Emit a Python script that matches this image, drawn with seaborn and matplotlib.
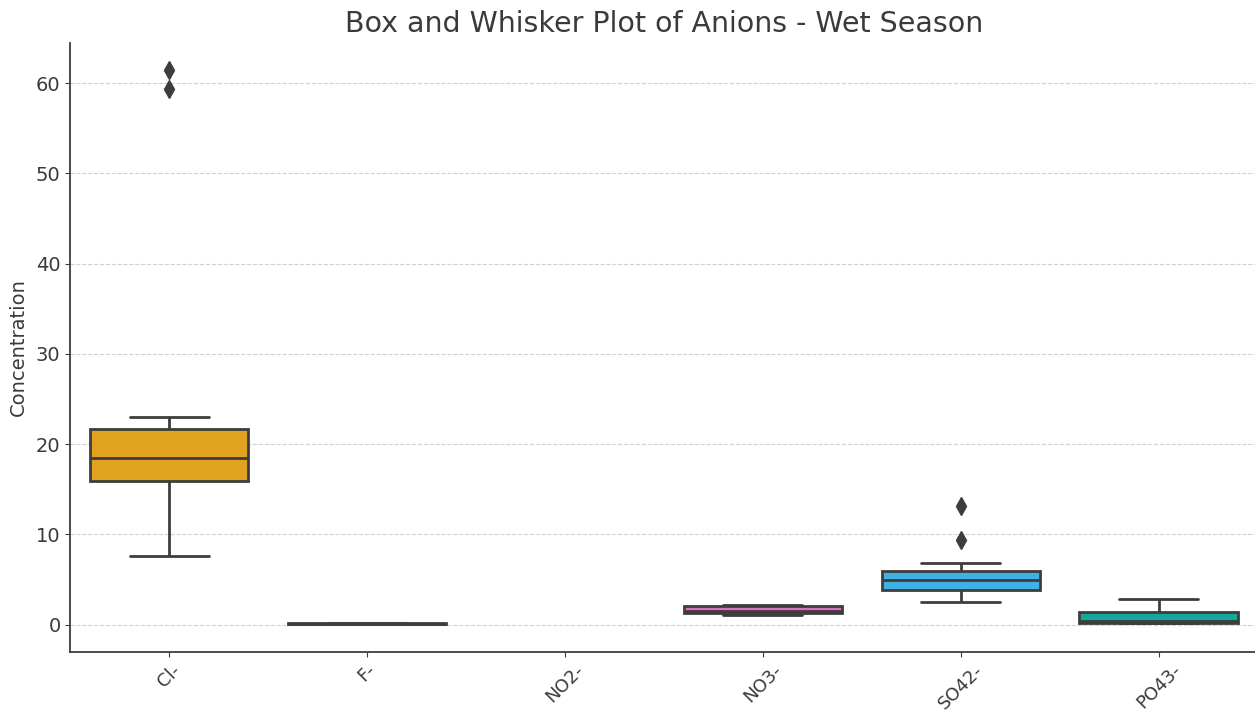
import numpy as np
import pandas as pd
import matplotlib
matplotlib.use("Agg")
import matplotlib.pyplot as plt
import seaborn as sns

# anions in plot order
anions = ["Cl-", "F-", "NO2-", "NO3-", "SO42-", "PO43-"]

# measured concentrations per anion (wet season)
cl = [7.6, 12.1, 14.8, 15.9, 16.7, 17.5, 18.4, 19.6, 20.9, 21.7, 23.0, 59.3, 61.4]
f = [0.06, 0.08, 0.09, 0.10, 0.10, 0.11, 0.12, 0.13, 0.15]
no2 = [np.nan]  # not detected
no3 = [1.1, 1.2, 1.3, 1.4, 1.5, 1.8, 2.0, 2.1, 2.15]
so4 = [2.5, 3.1, 3.6, 3.85, 4.3, 4.6, 4.9, 5.3, 5.6, 5.95, 6.8, 9.4, 13.1]
po4 = [0.15, 0.18, 0.2, 0.3, 0.35, 0.8, 1.35, 2.0, 2.8]

colors = ["#E0A21F", "#3B8ED0", "#2CA36B", "#DE6FC0", "#41B0E3", "#14A89A"]

values = [cl, f, no2, no3, so4, po4]
df = pd.DataFrame({
    "Anion": [a for a, v in zip(anions, values) for _ in v],
    "Concentration": [x for v in values for x in v],
})

sns.set_style("ticks")
plt.rcParams["font.family"] = ["DejaVu Sans"]
text_col = "#3a3a3a"

fig = plt.figure(figsize=(12.55, 7.13), dpi=100)
ax = fig.add_axes([0.056, 0.086, 0.946, 0.854])

line_col = "#3d3d3d"
sns.boxplot(data=df, x="Anion", y="Concentration", order=anions,
            hue="Anion", hue_order=anions, palette=colors, legend=False,
            saturation=1, width=0.8, linewidth=2, linecolor=line_col,
            flierprops=dict(marker="d", markersize=9, markerfacecolor=line_col,
                            markeredgecolor=line_col), ax=ax)

ax.set_xlim(-0.5, 5.5)
ax.set_yticks([0, 10, 20, 30, 40, 50, 60])
ax.yaxis.grid(True, linestyle="--", color="#d0d0d0", linewidth=0.8)
ax.set_axisbelow(True)
sns.despine(ax=ax)
for s in ["left", "bottom"]:
    ax.spines[s].set_color(line_col)
    ax.spines[s].set_linewidth(1.3)

ax.set_title("Box and Whisker Plot of Anions - Wet Season", fontsize=20.5,
             color=text_col, pad=8)
ax.set_xlabel("")
ax.set_ylabel("Concentration", fontsize=14, color=text_col, labelpad=6)
ax.tick_params(axis="y", labelsize=14, colors=line_col, labelcolor=text_col)
ax.tick_params(axis="x", labelsize=13, colors=line_col, labelcolor=text_col, pad=3)
plt.setp(ax.get_xticklabels(), rotation=45)

fig.savefig("out.png", dpi=100)
